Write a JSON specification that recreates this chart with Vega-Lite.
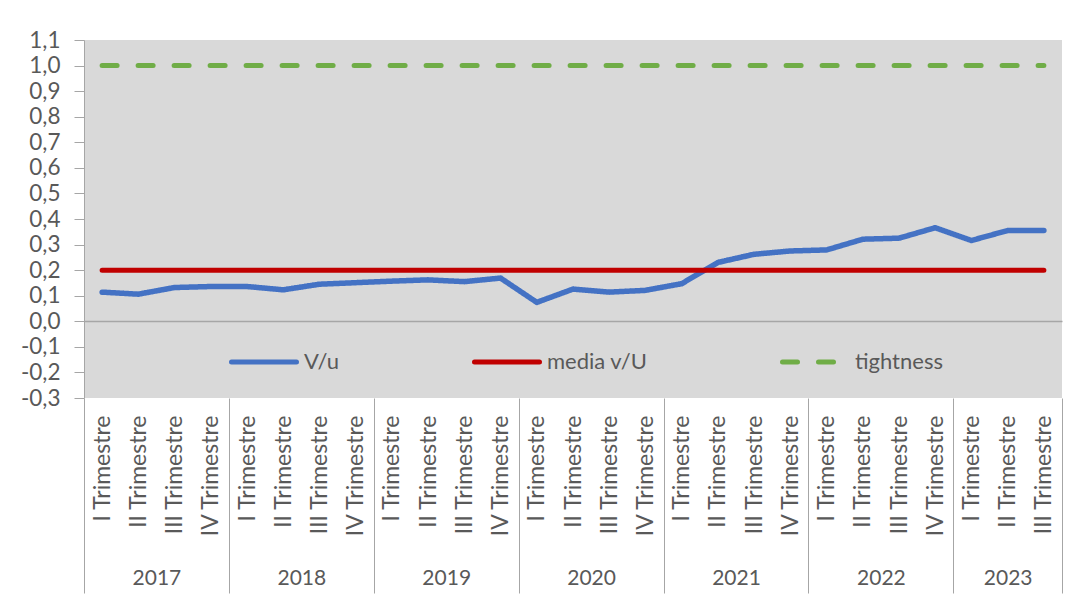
{
  "$schema": "https://vega.github.io/schema/vega-lite/v6.json",
  "width": 978,
  "height": 358,
  "autosize": {"type": "none"},
  "padding": {"left": 84, "top": 40, "right": 12, "bottom": 199},
  "background": "white",
  "config": {
    "view": {"fill": "#d9d9d9", "stroke": null},
    "font": "Lato",
    "axis": {"labelColor": "#595959", "labelFont": "Lato"},
    "legend": {"labelColor": "#595959", "labelFont": "Lato"}
  },
  "data": {
    "values": [
      {"pos": 0.5, "year": 2017, "quarter": "I Trimestre", "V/u": 0.114, "media v/U": 0.2, "tightness": 1.0},
      {"pos": 1.5, "year": 2017, "quarter": "II Trimestre", "V/u": 0.106, "media v/U": 0.2, "tightness": 1.0},
      {"pos": 2.5, "year": 2017, "quarter": "III Trimestre", "V/u": 0.132, "media v/U": 0.2, "tightness": 1.0},
      {"pos": 3.5, "year": 2017, "quarter": "IV Trimestre", "V/u": 0.136, "media v/U": 0.2, "tightness": 1.0},
      {"pos": 4.5, "year": 2018, "quarter": "I Trimestre", "V/u": 0.136, "media v/U": 0.2, "tightness": 1.0},
      {"pos": 5.5, "year": 2018, "quarter": "II Trimestre", "V/u": 0.123, "media v/U": 0.2, "tightness": 1.0},
      {"pos": 6.5, "year": 2018, "quarter": "III Trimestre", "V/u": 0.145, "media v/U": 0.2, "tightness": 1.0},
      {"pos": 7.5, "year": 2018, "quarter": "IV Trimestre", "V/u": 0.151, "media v/U": 0.2, "tightness": 1.0},
      {"pos": 8.5, "year": 2019, "quarter": "I Trimestre", "V/u": 0.157, "media v/U": 0.2, "tightness": 1.0},
      {"pos": 9.5, "year": 2019, "quarter": "II Trimestre", "V/u": 0.162, "media v/U": 0.2, "tightness": 1.0},
      {"pos": 10.5, "year": 2019, "quarter": "III Trimestre", "V/u": 0.155, "media v/U": 0.2, "tightness": 1.0},
      {"pos": 11.5, "year": 2019, "quarter": "IV Trimestre", "V/u": 0.169, "media v/U": 0.2, "tightness": 1.0},
      {"pos": 12.5, "year": 2020, "quarter": "I Trimestre", "V/u": 0.074, "media v/U": 0.2, "tightness": 1.0},
      {"pos": 13.5, "year": 2020, "quarter": "II Trimestre", "V/u": 0.126, "media v/U": 0.2, "tightness": 1.0},
      {"pos": 14.5, "year": 2020, "quarter": "III Trimestre", "V/u": 0.114, "media v/U": 0.2, "tightness": 1.0},
      {"pos": 15.5, "year": 2020, "quarter": "IV Trimestre", "V/u": 0.121, "media v/U": 0.2, "tightness": 1.0},
      {"pos": 16.5, "year": 2021, "quarter": "I Trimestre", "V/u": 0.147, "media v/U": 0.2, "tightness": 1.0},
      {"pos": 17.5, "year": 2021, "quarter": "II Trimestre", "V/u": 0.23, "media v/U": 0.2, "tightness": 1.0},
      {"pos": 18.5, "year": 2021, "quarter": "III Trimestre", "V/u": 0.262, "media v/U": 0.2, "tightness": 1.0},
      {"pos": 19.5, "year": 2021, "quarter": "IV Trimestre", "V/u": 0.275, "media v/U": 0.2, "tightness": 1.0},
      {"pos": 20.5, "year": 2022, "quarter": "I Trimestre", "V/u": 0.279, "media v/U": 0.2, "tightness": 1.0},
      {"pos": 21.5, "year": 2022, "quarter": "II Trimestre", "V/u": 0.321, "media v/U": 0.2, "tightness": 1.0},
      {"pos": 22.5, "year": 2022, "quarter": "III Trimestre", "V/u": 0.325, "media v/U": 0.2, "tightness": 1.0},
      {"pos": 23.5, "year": 2022, "quarter": "IV Trimestre", "V/u": 0.366, "media v/U": 0.2, "tightness": 1.0},
      {"pos": 24.5, "year": 2023, "quarter": "I Trimestre", "V/u": 0.316, "media v/U": 0.2, "tightness": 1.0},
      {"pos": 25.5, "year": 2023, "quarter": "II Trimestre", "V/u": 0.355, "media v/U": 0.2, "tightness": 1.0},
      {"pos": 26.5, "year": 2023, "quarter": "III Trimestre", "V/u": 0.355, "media v/U": 0.2, "tightness": 1.0}
    ]
  },
  "transform": [
    {"fold": ["V/u", "media v/U", "tightness"], "as": ["series", "value"]}
  ],
  "encoding": {
    "y": {
      "field": "value",
      "type": "quantitative",
      "scale": {"domain": [-0.3, 1.1], "nice": false, "zero": false},
      "axis": {
        "title": null,
        "values": [-0.3, -0.2, -0.1, 0, 0.1, 0.2, 0.3, 0.4, 0.5, 0.6, 0.7, 0.8, 0.9, 1.0, 1.1],
        "labelExpr": "(datum.value < -0.001 ? '-' : '') + replace(format(abs(datum.value), '.1f'), '.', ',')",
        "tickSize": 10,
        "tickColor": "#a6a6a6",
        "domainColor": "#a6a6a6",
        "labelPadding": 14,
        "labelFontSize": 22.5,
        "grid": true,
        "gridColor": {"condition": {"test": "abs(datum.value) < 0.001", "value": "#a6a6a6"}, "value": "transparent"},
        "gridWidth": 1.5,
        "labelOverlap": false,
        "labelFlush": false
      }
    },
    "color": {
      "field": "series",
      "type": "nominal",
      "scale": {"domain": ["V/u", "media v/U", "tightness"], "range": ["#4472c4", "#c00000", "#70ad47"]},
      "legend": {
        "orient": "none",
        "legendX": 145,
        "legendY": 287,
        "direction": "horizontal",
        "columns": 3,
        "columnPadding": 124,
        "title": null,
        "symbolType": "stroke",
        "symbolSize": 4225,
        "symbolStrokeWidth": 5,
        "labelFontSize": 22,
        "labelOffset": 5,
        "encode": {"symbols": {"update": {"strokeCap": {"value": "round"}}}}
      }
    },
    "strokeDash": {
      "field": "series",
      "type": "nominal",
      "scale": {"domain": ["V/u", "media v/U", "tightness"], "range": [[1, 0], [1, 0], [15, 21]]}
    }
  },
  "layer": [
    {
      "transform": [{"filter": "datum.series === 'V/u'"}],
      "mark": {"type": "line", "strokeWidth": 5.5, "strokeCap": "round", "strokeJoin": "round"},
      "encoding": {
        "x": {
          "field": "pos",
          "type": "quantitative",
          "scale": {"domain": [0, 27], "nice": false, "zero": false},
          "axis": {
            "orient": "bottom",
            "title": null,
            "values": [0.5, 1.5, 2.5, 3.5, 4.5, 5.5, 6.5, 7.5, 8.5, 9.5, 10.5, 11.5, 12.5, 13.5, 14.5, 15.5, 16.5, 17.5, 18.5, 19.5, 20.5, 21.5, 22.5, 23.5, 24.5, 25.5, 26.5],
            "labelExpr": "floor(datum.value) % 4 == 0 ? 'I Trimestre' : floor(datum.value) % 4 == 1 ? 'II Trimestre' : floor(datum.value) % 4 == 2 ? 'III Trimestre' : 'IV Trimestre'",
            "labelAngle": -90,
            "labelAlign": "right",
            "labelBaseline": "middle",
            "labelPadding": 17,
            "labelFontSize": 23,
            "ticks": false,
            "domain": false,
            "grid": false,
            "labelOverlap": false,
            "labelFlush": false,
            "labelBound": false
          }
        }
      }
    },
    {
      "transform": [{"filter": "datum.series === 'media v/U'"}],
      "mark": {"type": "line", "strokeWidth": 5, "strokeCap": "round"},
      "encoding": {
        "x": {
          "field": "pos",
          "type": "quantitative",
          "scale": {"domain": [0, 27], "nice": false, "zero": false},
          "axis": {
            "orient": "bottom",
            "title": null,
            "values": [0, 4, 8, 12, 16, 20, 24, 27],
            "labels": false,
            "ticks": true,
            "tickSize": 195,
            "tickColor": "#a6a6a6",
            "tickWidth": 1,
            "domain": false,
            "grid": false
          }
        }
      }
    },
    {
      "transform": [{"filter": "datum.series === 'tightness'"}],
      "mark": {"type": "line", "strokeWidth": 5, "strokeCap": "round"},
      "encoding": {
        "x": {
          "field": "pos",
          "type": "quantitative",
          "scale": {"domain": [0, 27], "nice": false, "zero": false},
          "axis": {
            "orient": "bottom",
            "title": null,
            "values": [2, 6, 10, 14, 18, 22, 25.5],
            "labelExpr": "'' + (2017 + floor(datum.value / 4))",
            "ticks": false,
            "domain": false,
            "grid": false,
            "labelPadding": 180,
            "labelBaseline": "middle",
            "labelAlign": "center",
            "labelFontSize": 21,
            "labelOverlap": false,
            "labelFlush": false
          }
        }
      }
    }
  ],
  "resolve": {"axis": {"x": "independent"}}
}
